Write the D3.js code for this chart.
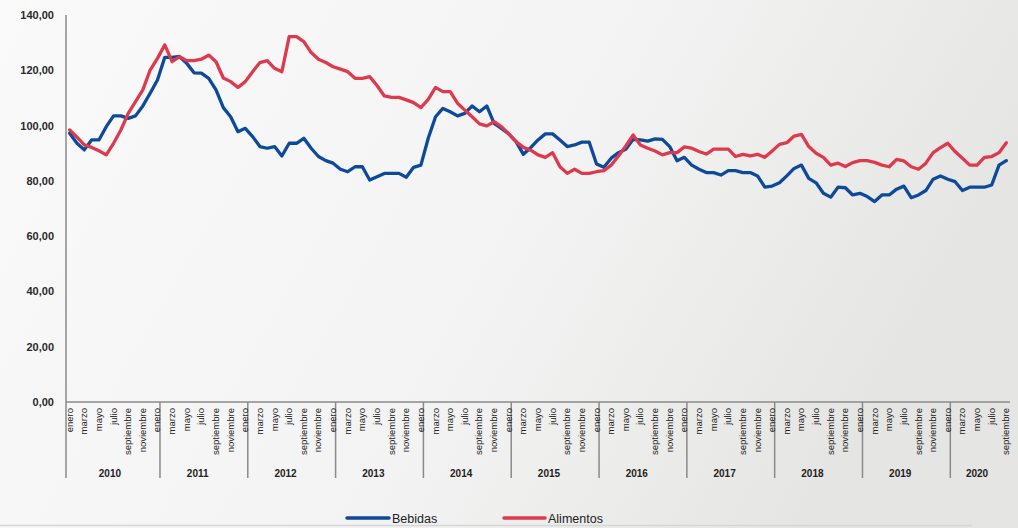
<!DOCTYPE html>
<html>
<head>
<meta charset="utf-8">
<script src="https://cdn.jsdelivr.net/npm/d3@7"></script>
<style>
  html, body { margin: 0; padding: 0; }
  body { width: 1018px; height: 528px; overflow: hidden; }
  svg { display: block; }
</style>
</head>
<body>
<svg id="chart" width="1018" height="528"></svg>
<script>
// ---- data ----
const years = ["2010","2011","2012","2013","2014","2015","2016","2017","2018","2019","2020"];
const monthNames = ["enero","febrero","marzo","abril","mayo","junio","julio","agosto","septiembre","octubre","noviembre","diciembre"];
const yTicks = [0, 20, 40, 60, 80, 100, 120, 140];
const seriesNames = ["Bebidas", "Alimentos"];

const bebidas = [
  97.2, 93.6, 91.2, 94.8, 94.8, 99.6, 103.5, 103.5, 102.6, 103.5, 107.1, 111.7,
  116.5, 124.7, 124.7, 125.0, 122.5, 119.1, 119.0, 117.1, 112.9, 106.5, 103.2, 97.8,
  99.0, 96.0, 92.4, 91.8, 92.4, 89.0, 93.6, 93.6, 95.4, 91.8, 88.8, 87.3,
  86.4, 84.2, 83.3, 85.1, 85.1, 80.3, 81.5, 82.7, 82.7, 82.7, 81.3, 84.9,
  85.7, 95.4, 103.2, 106.2, 105.0, 103.5, 104.4, 107.1, 105.0, 107.1, 100.8, 99.0,
  97.0, 94.2, 89.6, 92.0, 94.8, 97.0, 97.0, 94.8, 92.4, 93.0, 94.0, 94.0,
  86.1, 84.9, 88.2, 90.2, 91.4, 95.0, 94.8, 94.4, 95.2, 95.0, 92.4, 87.3,
  88.5, 85.7, 84.2, 83.0, 83.0, 82.1, 83.7, 83.7, 83.0, 83.0, 81.8, 77.7,
  78.1, 79.3, 81.8, 84.5, 85.7, 80.9, 79.3, 75.5, 74.1, 77.7, 77.5, 74.9,
  75.5, 74.3, 72.5, 74.9, 74.9, 77.0, 78.1, 73.9, 74.9, 76.5, 80.6, 81.8,
  80.6, 79.7, 76.5, 77.7, 77.7, 77.7, 78.5, 85.7, 87.3
];
const alimentos = [
  98.4, 95.8, 93.0, 92.1, 90.9, 89.4, 93.6, 98.4, 104.4, 108.7, 112.9, 120.1,
  124.3, 129.2, 123.1, 124.9, 123.5, 123.5, 124.0, 125.5, 123.1, 117.2, 115.9, 113.8,
  115.9, 119.5, 122.8, 123.5, 120.7, 119.5, 132.2, 132.2, 130.4, 126.4, 124.0, 122.8,
  121.3, 120.4, 119.5, 117.1, 117.1, 117.7, 114.5, 110.7, 110.2, 110.2, 109.3, 108.3,
  106.5, 109.5, 113.8, 112.3, 112.3, 108.1, 105.6, 103.2, 100.6, 99.9, 101.4, 99.6,
  97.0, 94.2, 92.1, 91.1, 89.4, 88.5, 90.2, 85.1, 82.7, 84.2, 82.7, 82.7,
  83.3, 83.7, 85.7, 89.0, 92.6, 96.6, 93.0, 91.8, 90.8, 89.4, 90.2, 90.2,
  92.3, 91.8, 90.6, 89.7, 91.5, 91.5, 91.5, 88.8, 89.6, 89.0, 89.6, 88.5,
  90.8, 93.2, 93.8, 96.2, 96.8, 92.4, 90.0, 88.5, 85.7, 86.4, 85.2, 86.6,
  87.3, 87.3, 86.7, 85.7, 85.1, 87.8, 87.2, 85.1, 84.2, 86.4, 90.2, 92.0,
  93.6, 90.6, 88.2, 85.7, 85.7, 88.5, 88.8, 90.2, 93.8
];

// ---- layout ----
const colors = { Bebidas: "#0e4a9a", Alimentos: "#dd3a4d" };
const svg = d3.select("#chart");
const W = 1018, H = 528;
const plotLeft = 66, plotRight = 1010, plotTop = 15, plotBase = 402, axisEnd = 478;
const n = bebidas.length;

// background gradient
const defs = svg.append("defs");
const grad = defs.append("linearGradient").attr("id", "bg").attr("x1", "0").attr("y1", "0").attr("x2", "1").attr("y2", "0.3");
grad.append("stop").attr("offset", "0%").attr("stop-color", "#fafafa");
grad.append("stop").attr("offset", "60%").attr("stop-color", "#f3f3f3");
grad.append("stop").attr("offset", "100%").attr("stop-color", "#e5e5e3");
svg.append("rect").attr("width", W).attr("height", H).attr("fill", "url(#bg)");
svg.append("line").attr("x1", 0).attr("x2", 972).attr("y1", 525.5).attr("y2", 525.5)
  .attr("stroke", "#d6d6d6").attr("stroke-width", 1.5);

const x = d3.scaleLinear().domain([-0.5, n - 0.5]).range([plotLeft, plotRight]);
const y = d3.scaleLinear().domain([0, 140]).range([plotBase, plotTop]);

// y axis labels
const yAxis = d3.axisLeft(y).tickValues(yTicks).tickSize(0).tickPadding(12)
  .tickFormat(d => d.toFixed(2).replace(".", ","));
const gy = svg.append("g").attr("transform", `translate(${plotLeft},0)`).call(yAxis);
gy.select(".domain").remove();
gy.selectAll("text").attr("font-family", "'Liberation Sans', Arial, sans-serif")
  .attr("font-size", 11).attr("font-weight", "bold").attr("fill", "#2a2a2a");

// axis lines
const axisColor = "#8a8a8a";
svg.append("line").attr("x1", plotLeft).attr("x2", plotLeft).attr("y1", plotTop).attr("y2", axisEnd)
  .attr("stroke", axisColor).attr("stroke-width", 1.5);
svg.append("line").attr("x1", plotLeft).attr("x2", plotRight).attr("y1", plotBase).attr("y2", plotBase)
  .attr("stroke", axisColor).attr("stroke-width", 1.5);

// year separators
years.forEach((yr, k) => {
  if (k === 0) return;
  const xx = x(12 * k) + 2.5;
  svg.append("line").attr("x1", xx).attr("x2", xx).attr("y1", plotBase).attr("y2", axisEnd)
    .attr("stroke", axisColor).attr("stroke-width", 1.5);
});

// month labels
const monthIdx = d3.range(n).filter(i => (i % 12) % 2 === 0);
svg.append("g").selectAll("text").data(monthIdx).join("text")
  .attr("transform", i => `translate(${x(i) + 3},${plotBase + 6}) rotate(-90)`)
  .attr("text-anchor", "end")
  .attr("font-family", "'Liberation Sans Narrow', 'Liberation Sans', Arial, sans-serif")
  .attr("font-size", 9.5).attr("fill", "#222")
  .text(i => monthNames[i % 12]);

// year labels
svg.append("g").selectAll("text").data(years).join("text")
  .attr("x", (yr, k) => {
    const a = 12 * k, b = Math.min(12 * k + 11, n - 1);
    return x((a + b) / 2);
  })
  .attr("y", 476.5)
  .attr("text-anchor", "middle")
  .attr("font-family", "'Liberation Sans', Arial, sans-serif")
  .attr("font-size", 10).attr("font-weight", "bold").attr("fill", "#222")
  .text(d => d);

// lines
const line = d3.line().x((d, i) => x(i)).y(d => y(d));
[["Bebidas", bebidas], ["Alimentos", alimentos]].forEach(([name, vals]) => {
  svg.append("path").datum(vals).attr("d", line).attr("fill", "none")
    .attr("stroke", colors[name]).attr("stroke-width", 3.3)
    .attr("stroke-linejoin", "round").attr("stroke-linecap", "round");
});

// legend
const legendPos = [{ x1: 347, x2: 389 }, { x1: 504, x2: 545 }];
seriesNames.forEach((name, k) => {
  const p = legendPos[k];
  svg.append("line").attr("x1", p.x1).attr("x2", p.x2).attr("y1", 518).attr("y2", 518)
    .attr("stroke", colors[name]).attr("stroke-width", 3.5).attr("stroke-linecap", "round");
  svg.append("text").attr("x", p.x2 + 3).attr("y", 522.5)
    .attr("font-family", "'Liberation Sans', Arial, sans-serif")
    .attr("font-size", 12.5).attr("fill", "#222")
    .text(name);
});
</script>
</body>
</html>
